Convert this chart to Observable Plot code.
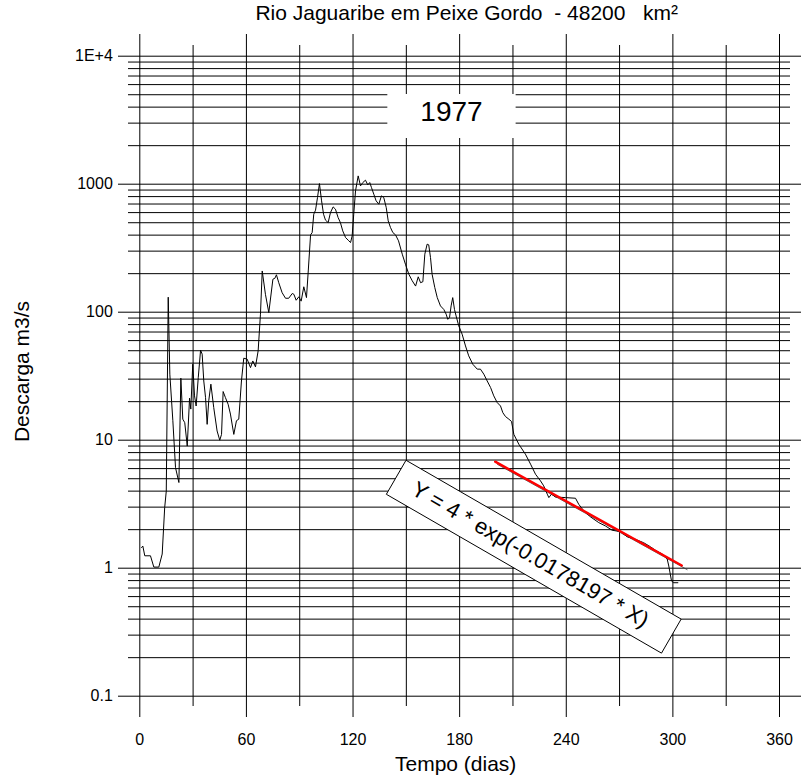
<!DOCTYPE html>
<html>
<head>
<meta charset="utf-8">
<script src="https://cdn.jsdelivr.net/npm/d3@7"></script>
<script src="https://cdn.jsdelivr.net/npm/@observablehq/plot@0.6"></script>
<style>
  html, body { margin: 0; padding: 0; background: #fff; }
  #chart svg { display: block; }
</style>
</head>
<body>
<div id="chart"></div>
<script>
// ---- data ----
const days = [1, 1.7, 2.8, 6, 7.9, 10.7, 12.6, 14, 14.9, 16, 16.9, 18.6, 20.1, 22, 23.1, 24.2, 25.3, 26.7, 28, 28.7,
  29.8, 30.8, 31.7, 32.9, 34.2, 35.1, 36, 37, 37.9, 38.8, 40, 41.6, 43.5, 45, 46, 46.9, 48.2, 49.7, 51, 52.9,
  54.4, 55.7, 57.2, 58.5, 60.4, 62.3, 63.6, 65.1, 66.6, 67.9, 68.9, 70.7, 72.6, 74.9, 76, 76.9, 78.2, 80.1, 82, 83.8,
  85.8, 86.7, 88, 89.5, 90.8, 92.3, 93.8, 94.8, 96.1, 97, 97.9, 98.9, 100, 101.1, 102.3, 103.4, 104.5, 106, 107.3, 108.8,
  110.1, 111.6, 112.9, 114.2, 115.8, 117.3, 118.6, 119.5, 120.4, 121.4, 122.9, 124.2, 125.5, 127, 128.3, 129.4, 130.4, 131.7, 133, 134.5,
  136, 137.3, 138.7, 139.8, 141.1, 142.4, 143.9, 145.6, 147.7, 149.5, 151.4, 153.3, 155.2, 156.7, 158, 159.3, 160.4, 161.7, 162.6, 163.6,
  164.5, 166, 167.4, 169.2, 171.1, 172.4, 173.3, 174.3, 175.2, 176.1, 177.1, 178, 179.5, 181.4, 183.3, 185.1, 187.4, 189.9, 191.7, 193.6,
  195.5, 197.4, 199.2, 201.1, 203, 204.3, 205.8, 207.7, 209.2, 210.5, 213.3, 217, 219.9, 222.7, 225.5, 227.3, 229.3, 230.2, 231.7, 233.9,
  239.6, 245.2, 247, 249.9, 253.6, 258.3, 262, 265.8, 270.5, 274.3, 279, 283.6, 287.4, 290.2, 294, 296.8, 297.7, 299.2, 300.2, 302.8];
const discharge = [1.45, 1.49, 1.25, 1.25, 1.02, 1.02, 1.29, 2.97, 4.0, 131, 32.8, 14.2, 6.1, 4.67, 30.5, 14.6, 13.7, 9.0, 21.3, 17.5,
  39.2, 22.2, 18.5, 30.8, 50.5, 47, 29, 21.5, 13.3, 20.3, 27.4, 18, 11.8, 10, 11.1, 24, 21.5, 19.1, 16, 11.1,
  14.2, 14.6, 29, 43.7, 43, 36.9, 41.6, 37.4, 49.9, 96.5, 210, 138, 99.3, 181, 184, 196, 170, 142, 128.5, 128.5,
  140, 138, 124, 132, 122, 158, 130, 210, 402, 419, 583, 627, 786, 1011, 741, 583, 524, 501, 600, 665,
  638, 549, 501, 432, 383, 365, 350, 394, 583, 887, 1161, 970, 1030, 1075, 988, 1030, 940, 835, 741, 698,
  811, 786, 656, 517, 458, 419, 402, 361, 284, 237, 198, 176, 160, 189, 170, 173, 284, 340, 336, 267,
  198, 156, 130, 112, 105, 96.5, 88, 90.7, 112, 130, 105, 93.5, 78.2, 67.3, 54.5, 45.6, 39.2, 35.9, 35.9, 32.8,
  29, 25.8, 22.2, 19.7, 18.5, 16.4, 15.3, 14.6, 14, 11.1, 9.3, 7.78, 6.5, 5.42, 4.81, 4.4, 3.79, 3.56, 3.79, 3.6,
  3.56, 3.52, 3.16, 2.8, 2.52, 2.27, 2.14, 1.98, 1.93, 1.76, 1.68, 1.58, 1.47, 1.38, 1.29, 1.18, 1.04, 0.80, 0.77, 0.77];

// fitted recession line (red) and the thin fit trace under it
const fitDays = [200, 305];
const fitQ = [6.8, 1.05];
const traceDays = [201.3, 308];
const traceQ = [6.47, 0.975];

const xTicks = [0, 60, 120, 180, 240, 300, 360];
const xMinor = [30, 90, 150, 210, 270, 330];
const yTicks = [0.1, 1, 10, 100, 1000, 10000];
const yTickLabels = ["0.1", "1", "10", "100", "1000", "1E+4"];
const yMultipliers = [2, 3, 4, 5, 6, 7, 8, 9];

const titleText = "Rio Jaguaribe em Peixe Gordo\u00a0 -\u00a048200\u00a0\u00a0 km\u00b2";
const xLabel = "Tempo (dias)";
const yLabel = "Descarga m3/s";
const yearText = "1977";
const formulaText = "Y = 4 * exp(-0.0178197 * X)";

// annotation anchors (data units)
const yearAnchor = {t: 175.4, q: 3417};
const yearTextAnchor = {t: 175.4, q: 3672};
const formulaBoxAnchor = {t: 221.7, q: 1.23};
const formulaTextAnchor = {t: 219.7, q: 1.275};

// ---- build ----
const minorY = yTicks.slice(0, -1).flatMap(d => yMultipliers.map(m => +(m * d).toPrecision(3)));
const series = days.map((t, i) => ({t, q: discharge[i]}));
const fit = fitDays.map((t, i) => ({t, q: fitQ[i]}));
const trace = traceDays.map((t, i) => ({t, q: traceQ[i]}));

function rotatedRect(w, h, deg) {
  const a = deg * Math.PI / 180, c = Math.cos(a), s = Math.sin(a);
  const pts = [[-w/2, -h/2], [w/2, -h/2], [w/2, h/2], [-w/2, h/2]].map(([x, y]) => [x*c - y*s, x*s + y*c]);
  return {draw(ctx) { ctx.moveTo(...pts[0]); for (let i = 1; i < 4; i++) ctx.lineTo(...pts[i]); ctx.closePath(); }};
}

const font = "Arial, 'Liberation Sans', Helvetica, sans-serif";

const plot = Plot.plot({
  width: 801,
  height: 780,
  marginLeft: 139.3,
  marginRight: 22,
  marginTop: 55.7,
  marginBottom: 84.3,
  style: {fontFamily: font, fontSize: "16px", color: "black", background: "white", overflow: "visible"},
  x: {domain: [0, 360], axis: null},
  y: {type: "log", domain: [0.1, 10000], axis: null},
  marks: [
    // grid
    Plot.ruleY(minorY, {stroke: "black", strokeWidth: 1, insetLeft: -11.3, insetRight: -11}),
    Plot.ruleY(yTicks, {stroke: "black", strokeWidth: 1, insetLeft: -21.3, insetRight: -22}),
    Plot.ruleX(xMinor, {stroke: "black", strokeWidth: 1, insetTop: -10.7, insetBottom: -10.3}),
    Plot.ruleX(xTicks, {stroke: "black", strokeWidth: 1, insetTop: -21.7, insetBottom: -21.3}),
    // year label box
    Plot.dot([yearAnchor], {x: "t", y: "q", symbol: rotatedRect(128.3, 44, 0), fill: "white", stroke: "none"}),
    Plot.text([yearTextAnchor], {x: "t", y: "q", text: () => yearText, fontSize: 28, fill: "black"}),
    // data
    Plot.line(trace, {x: "t", y: "q", stroke: "#333", strokeWidth: 0.8}),
    Plot.line(series, {x: "t", y: "q", stroke: "black", strokeWidth: 1}),
    Plot.line(fit, {x: "t", y: "q", stroke: "#ff0000", strokeWidth: 2.4}),
    // formula box
    Plot.dot([formulaBoxAnchor], {x: "t", y: "q", symbol: rotatedRect(317.7, 39.3, 30), fill: "white", stroke: "black", strokeWidth: 1}),
    Plot.text([formulaTextAnchor], {x: "t", y: "q", text: () => formulaText, rotate: 30, fontSize: 22, fill: "black"}),
    // tick labels
    Plot.text(yTicks, {y: d => d, text: (d, i) => yTickLabels[i], frameAnchor: "left", textAnchor: "end", lineAnchor: "middle", dx: -27, fontSize: 16}),
    Plot.text(xTicks, {x: d => d, text: d => String(d), frameAnchor: "bottom", textAnchor: "middle", lineAnchor: "middle", dy: 44, fontSize: 16}),
    // titles
    Plot.text([titleText], {frameAnchor: "top", textAnchor: "middle", lineAnchor: "middle", dx: 7, dy: -43, fontSize: 21}),
    Plot.text([xLabel], {frameAnchor: "bottom", textAnchor: "middle", lineAnchor: "middle", dx: -4, dy: 68, fontSize: 21}),
    Plot.text([yLabel], {frameAnchor: "left", textAnchor: "middle", lineAnchor: "middle", dx: -117.3, dy: -4.7, rotate: -90, fontSize: 21})
  ]
});
document.getElementById("chart").appendChild(plot);
</script>
</body>
</html>
